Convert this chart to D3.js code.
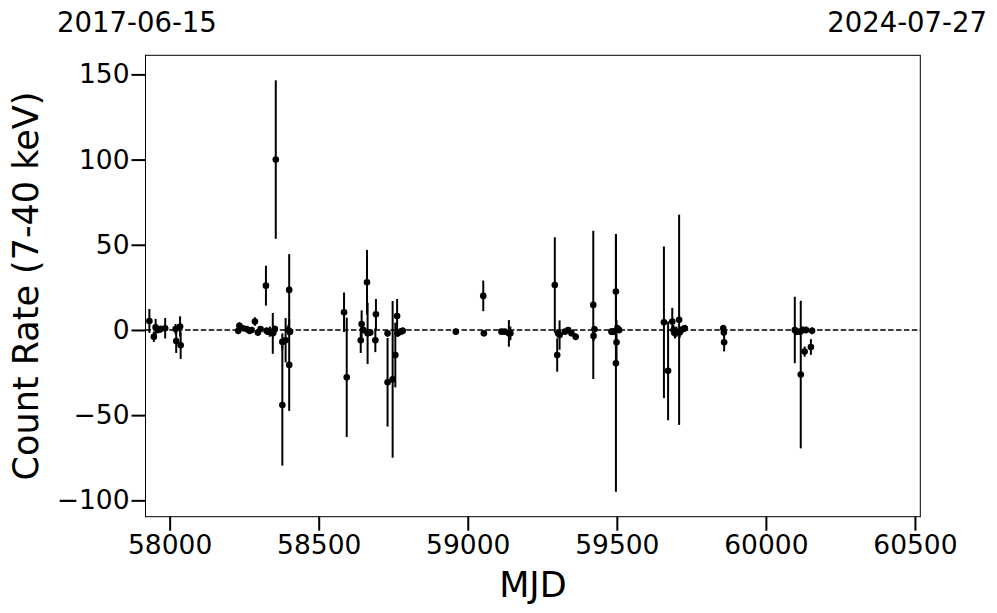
<!DOCTYPE html>
<html>
<head>
<meta charset="utf-8">
<script src="https://cdn.jsdelivr.net/npm/d3@7"></script>
<style>
  html, body { margin: 0; padding: 0; background: #fff; }
  svg { display: block; font-family: "DejaVu Sans", sans-serif; }
</style>
</head>
<body>
<svg id="chart" width="997" height="613"></svg>
<script>
// ---- data ----
const mjd = [
  57932, 57947, 57953, 57960, 57970, 57985, 58020, 58022, 58035, 58037,
  58230, 58234, 58246, 58258, 58268, 58275, 58286, 58296, 58305, 58323,
  58325, 58330, 58336, 58346, 58348, 58353, 58356, 58378, 58378, 58389,
  58398, 58401, 58401, 58404,
  58585, 58594, 58641, 58644, 58650, 58662, 58664, 58673, 58690, 58692,
  58731, 58731, 58748, 58757, 58763, 58765, 58775, 58782,
  58960, 59052, 59054, 59113, 59124, 59138, 59143,
  59292, 59300, 59303, 59308, 59326, 59337, 59348, 59362,
  59421, 59422, 59425, 59482, 59488, 59497, 59497, 59499, 59502, 59508,
  59658, 59672, 59686, 59690, 59695, 59700, 59709, 59711, 59722, 59728,
  59857, 59859, 59860,
  60097, 60103, 60115, 60117, 60125, 60130, 60135, 60151, 60155
];
const rate = [
  5.3, -4, 1.5, 0, 0.5, 1, 0.5, -6.5, 2, -9,
  -0.5, 2.5, 1, 0.5, -0.5, 0, 5, -1.5, 0.5, 26,
  -0.5, -1, -1, -2, -1.5, 0.5, 100, -44, -7, -6,
  0, 23.5, -20.5, -1,
  10.4, -27.8, -6, 3.5, 0, 28, -2, -1.5, -6, 9.2,
  -2, -30.7, -29, -14.7, 8.2, -2, -1, -0.5,
  -1, 20, -2, -1, -1, -2, -2,
  26.4, -14.7, -2, -3, -1, 0, -2, -4,
  14.7, -3.5, 0.4, -1, -1, 22.5, -19.5, -7.2, 1, 0,
  4.5, -24, 5, 0, -2, -1, 6, -1.5, 0.5, 1,
  1, -1.5, -7.2,
  0, -1, -1, -26.2, 0, -12.7, 0, -10, -0.5
];
const err = [
  7, 3, 5, 2, 2, 6, 3, 7, 6, 8,
  2, 2, 1.5, 1.5, 2, 1.5, 2.5, 2, 1.5, 11.7,
  2, 2, 3, 12, 2, 2, 46.5, 35.6, 5, 13,
  3, 21, 27, 2,
  11.6, 35, 7.5, 8, 2, 19, 18, 2, 7, 9,
  2, 26, 46, 19, 10, 2, 2, 2,
  1.5, 9, 1.5, 1.5, 1.5, 7.8, 4,
  28, 9.8, 2, 8.6, 1.5, 1.5, 1.5, 2,
  43.5, 3, 2, 2, 2, 33.8, 75.5, 13, 2, 2,
  44.5, 29, 8, 3, 3, 3, 61.7, 3, 2, 2,
  2, 2, 5.4,
  19.5, 2, 2, 43.3, 2, 3, 2, 4.6, 2
];
const xTicks = [58000, 58500, 59000, 59500, 60000, 60500];
const yTicks = [-100, -50, 0, 50, 100, 150];
const xDomain = [57919, 60518];
const yDomain = [-109.6, 161.2];
const startDate = "2017-06-15";
const endDate = "2024-07-27";
const xLabel = "MJD";
const yLabel = "Count Rate (7-40 keV)";

// ---- layout ----
const L = 145.5, R = 920.3, T = 55.3, B = 516.7;
const svg = d3.select("#chart");
const x = d3.scaleLinear().domain(xDomain).range([L, R]);
const y = d3.scaleLinear().domain(yDomain).range([B, T]);

const data = mjd.map((m, i) => ({ m, r: rate[i], e: err[i] }));

// zero line
svg.append("line")
  .attr("x1", L).attr("x2", R)
  .attr("y1", y(0)).attr("y2", y(0))
  .attr("stroke", "#000").attr("stroke-width", 1.5)
  .attr("stroke-dasharray", "5.5,2.4");

// error bars
const g = svg.append("g");
g.selectAll("line.err").data(data).join("line")
  .attr("class", "err")
  .attr("x1", d => x(d.m)).attr("x2", d => x(d.m))
  .attr("y1", d => y(d.r - d.e)).attr("y2", d => y(d.r + d.e))
  .attr("stroke", "#000").attr("stroke-width", 2);
g.selectAll("circle").data(data).join("circle")
  .attr("cx", d => x(d.m)).attr("cy", d => y(d.r)).attr("r", 3.3)
  .attr("fill", "#000");

// axes
const xAxis = svg.append("g").attr("transform", `translate(0,${B})`)
  .call(d3.axisBottom(x).tickValues(xTicks).tickFormat(d3.format("d")).tickSize(14).tickPadding(4));
const yAxis = svg.append("g").attr("transform", `translate(${L},0)`)
  .call(d3.axisLeft(y).tickValues(yTicks).tickFormat(d3.format("d")).tickSize(14).tickPadding(2));
[xAxis, yAxis].forEach(a => {
  a.select(".domain").remove();
  a.selectAll(".tick line").attr("stroke", "#000").attr("stroke-width", 2);
  a.selectAll(".tick text").attr("fill", "#000")
    .style("font-size", "26.5px").style("font-family", "DejaVu Sans, sans-serif");
});

// frame
svg.append("rect").attr("x", L).attr("y", T)
  .attr("width", R - L).attr("height", B - T)
  .attr("fill", "none").attr("stroke", "#000").attr("stroke-width", 1);

// labels
svg.append("text").attr("x", (L + R) / 2).attr("y", 597)
  .attr("text-anchor", "middle").style("font-size", "35px").text(xLabel);
svg.append("text")
  .attr("transform", `translate(38,${(T + B) / 2}) rotate(-90)`)
  .attr("text-anchor", "middle").style("font-size", "35px").text(yLabel);
svg.append("text").attr("x", 57).attr("y", 32)
  .attr("text-anchor", "start").style("font-size", "27.5px").text(startDate);
svg.append("text").attr("x", 987).attr("y", 32)
  .attr("text-anchor", "end").style("font-size", "27.5px").text(endDate);
</script>
</body>
</html>
